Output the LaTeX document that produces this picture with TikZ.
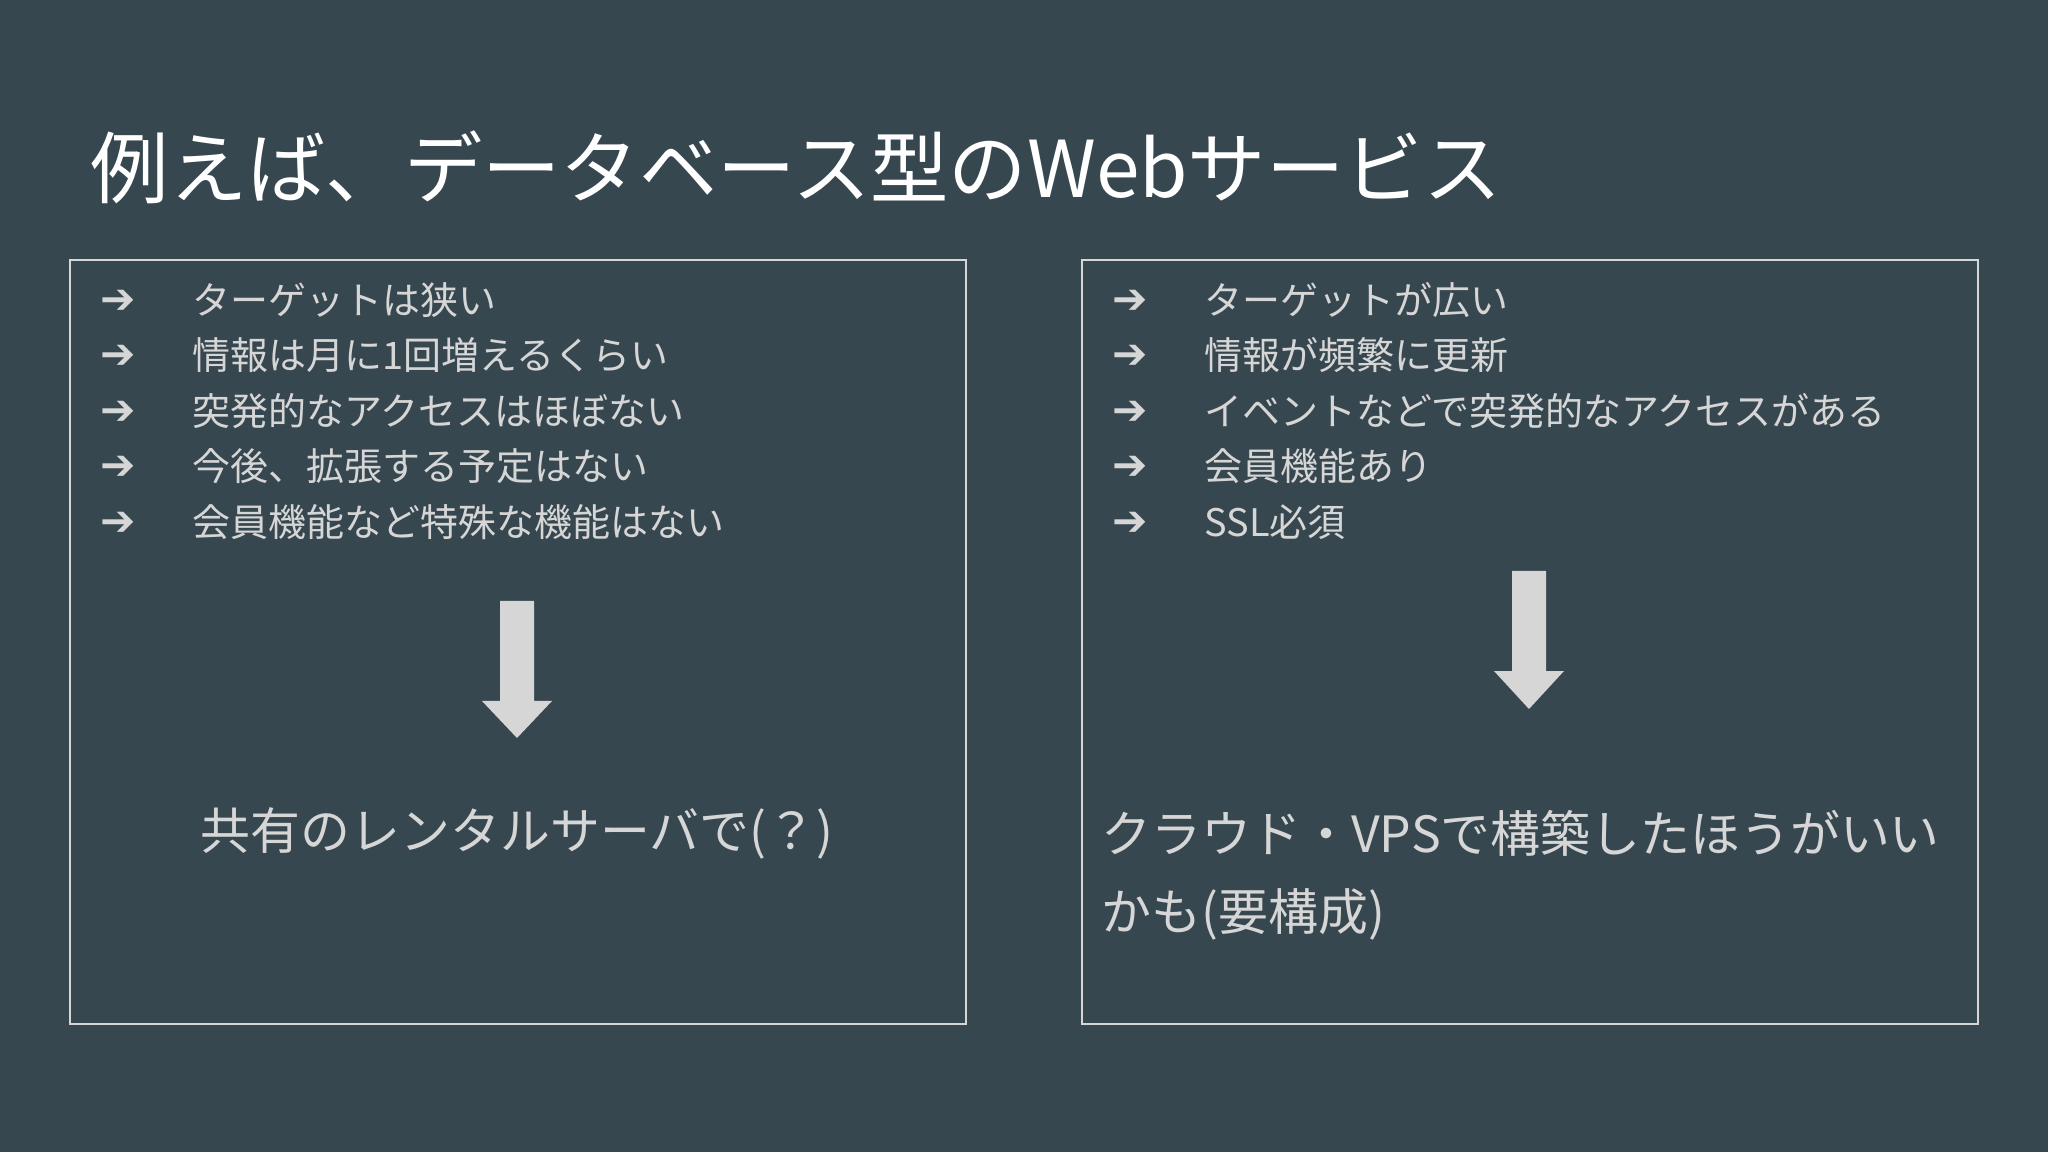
\documentclass[tikz,border=0pt]{standalone}
\usepackage{fontspec}
\setmainfont{Noto Sans CJK JP}
\newfontfamily\dejavu{DejaVu Sans}
\definecolor{bg}{HTML}{37474F}
\definecolor{txt}{HTML}{D6D6D6}
\tikzset{
 panel/.style={draw=txt,line width=0.7pt},
 bul/.style={anchor=west,text=txt,font=\dejavu\fontsize{12}{14}\selectfont\bfseries,inner sep=0},
 item/.style={anchor=west,text=txt,font=\fontsize{10.8}{14}\selectfont,inner sep=0},
 concl/.style={text=txt,font=\fontsize{14.2}{20}\selectfont,inner sep=0},
 bigarrow/.style={fill=txt,draw=none}
}
\begin{document}
\begin{tikzpicture}[x=1cm,y=-1cm]
\fill[bg] (0,0) rectangle (20.48,11.52);
\useasboundingbox (0,0) rectangle (20.48,11.52);
\node[anchor=west,text=white,font=\fontsize{22.3}{28}\selectfont,inner sep=0] (title) at (0.9,1.67) {例えば、データベース型のWebサービス};
\node[panel,minimum width=8.96cm,minimum height=7.64cm,anchor=north west] (lbox) at (0.69,2.59) {};
\node[panel,minimum width=8.96cm,minimum height=7.64cm,anchor=north west] (rbox) at (10.81,2.59) {};
\foreach \y/\t [count=\i] in {3.00/ターゲットは狭い,3.55/情報は月に1回増えるくらい,4.11/突発的なアクセスはほぼない,4.66/今後、拡張する予定はない,5.22/会員機能など特殊な機能はない}{
 \node[bul] (lb\i) at (1.0,\y+0.02) {➔};
 \node[item] (lt\i) at (1.92,\y) {\t};
}
\foreach \y/\t [count=\i] in {3.00/ターゲットが広い,3.55/情報が頻繁に更新,4.11/イベントなどで突発的なアクセスがある,4.66/会員機能あり,5.22/SSL必須}{
 \node[bul] (rb\i) at (11.12,\y+0.02) {➔};
 \node[item] (rt\i) at (12.04,\y) {\t};
}
\fill[bigarrow] (5.0,6.01) -- (5.34,6.01) -- (5.34,7.01) -- (5.52,7.01) -- (5.17,7.38) -- (4.82,7.01) -- (5.0,7.01) -- cycle;
\fill[bigarrow] (15.12,5.71) -- (15.46,5.71) -- (15.46,6.71) -- (15.64,6.71) -- (15.29,7.09) -- (14.94,6.71) -- (15.12,6.71) -- cycle;
\node[concl] (lc) at (5.17,8.33) {共有のレンタルサーバで(？)};
\node[concl,anchor=west] (rc1) at (11.01,8.33) {クラウド・VPSで構築したほうがいい};
\node[concl,anchor=west] (rc2) at (11.01,9.14) {かも(要構成)};
\end{tikzpicture}
\end{document}
